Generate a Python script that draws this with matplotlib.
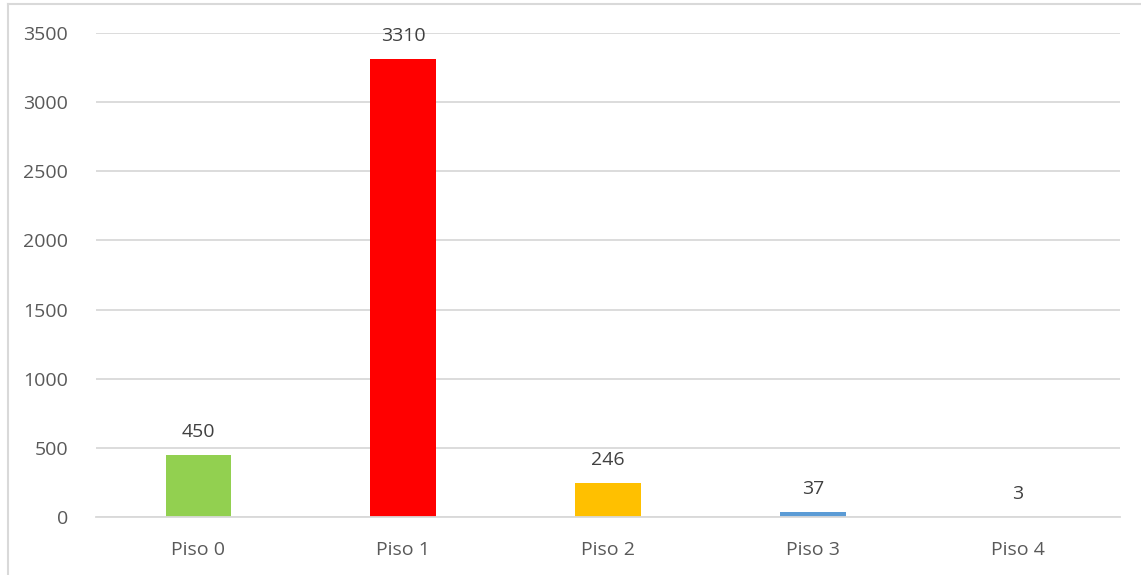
import numpy as np
import matplotlib
matplotlib.use("Agg")
from matplotlib import pyplot as plt
from matplotlib.lines import Line2D

# Chart data
categories = ["Piso 0", "Piso 1", "Piso 2", "Piso 3", "Piso 4"]
values = [450, 3310, 246, 37, 3]
bar_colors = ["#92D050", "#FF0000", "#FFC000", "#5B9BD5", "#A5A5A5"]
y_ticks = [0, 500, 1000, 1500, 2000, 2500, 3000, 3500]

plt.rcParams['font.family'] = ['Open Sans', 'DejaVu Sans']
text_color = "#595959"
grid_color = "#D9D9D9"

fig = plt.figure(figsize=(11.41, 5.75), dpi=100)
ax = fig.add_axes([96 / 1141, 1 - 517 / 575, 1024 / 1141, (517 - 33) / 575])

x = np.arange(len(categories))
bars = ax.bar(x, values, width=0.32, color=bar_colors, zorder=3)

# Value labels above bars
for xi, v in zip(x, values):
    ax.annotate(str(v), (xi, v), xytext=(0, 10), textcoords="offset points",
                ha="center", va="bottom", fontsize=14, color="#404040")

ax.set_xlim(-0.5, len(categories) - 0.5)
ax.set_ylim(0, 3500)
ax.set_yticks(y_ticks)
ax.set_xticks(x)
ax.set_xticklabels(categories)
ax.tick_params(axis="both", length=0, labelsize=14, labelcolor=text_color)
ax.tick_params(axis="y", pad=20)
ax.tick_params(axis="x", pad=17)

ax.grid(axis="y", color=grid_color, linewidth=1.3, zorder=0)
for side in ["top", "right", "left"]:
    ax.spines[side].set_visible(False)
ax.spines["bottom"].set_color(grid_color)
ax.spines["bottom"].set_linewidth(1.3)
ax.spines["bottom"].set_zorder(4)

# Outer chart border (left and top edges visible)
fig.add_artist(Line2D([8 / 1141, 8 / 1141], [0, 1 - 4 / 575], transform=fig.transFigure,
                      color=grid_color, linewidth=1.5))
fig.add_artist(Line2D([8 / 1141, 1], [1 - 4 / 575, 1 - 4 / 575], transform=fig.transFigure,
                      color=grid_color, linewidth=1.5))

fig.savefig("out.png", dpi=100, facecolor="white")
